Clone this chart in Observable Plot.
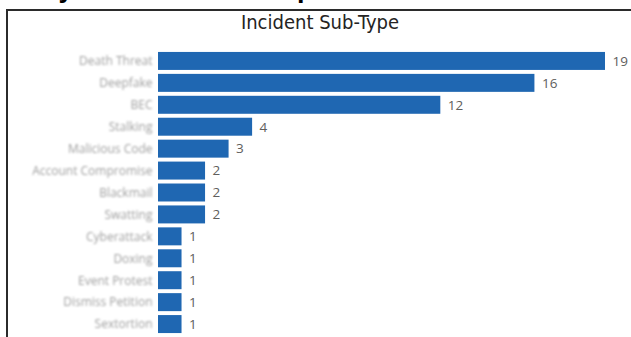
<!DOCTYPE html>
<html>
<head>
<meta charset="utf-8">
<script src="https://cdn.jsdelivr.net/npm/d3@7"></script>
<script src="https://cdn.jsdelivr.net/npm/@observablehq/plot@0.6"></script>
<style>
  html, body { margin: 0; padding: 0; background: #fff; overflow: hidden; }
  #page { position: relative; width: 631px; height: 337px; overflow: hidden; }
  #top { position: absolute; left: 0; top: -27px; font: bold 27px "Liberation Sans", Arial, sans-serif; color: #000; white-space: nowrap; }
  #frame { position: absolute; left: 6px; top: 9px; width: 700px; height: 400px; border-left: 2px solid #2b2b2b; border-top: 2px solid #2b2b2b; }
  #title { position: absolute; left: 0; width: 640px; top: 10px; text-align: center; font: 20px "DejaVu Sans Condensed", "Liberation Sans Narrow", sans-serif; color: #252423; }
  #chart { position: absolute; left: 0; top: 36px; }
</style>
</head>
<body>
<div id="page">
  <div id="top">Analysis of Incident Reports</div>
  <div id="frame"></div>
  <div id="title">Incident Sub-Type</div>
  <div id="chart"></div>
</div>
<script>
const subTypes = [
  "Death Threat", "Deepfake", "BEC", "Stalking", "Malicious Code",
  "Account Compromise", "Blackmail", "Swatting", "Cyberattack", "Doxing",
  "Event Protest", "Dismiss Petition", "Sextortion"
];
const counts = [19, 16, 12, 4, 3, 2, 2, 2, 1, 1, 1, 1, 1];

const data = subTypes.map((t, i) => ({type: t, count: counts[i]}));

const chart = Plot.plot({
  width: 631,
  height: 301,
  marginLeft: 158,
  marginRight: 26,
  marginTop: 12,
  marginBottom: 0,
  style: {background: "transparent", fontFamily: "'Open Sans', sans-serif"},
  x: {domain: [0, 19], axis: null},
  y: {domain: subTypes, padding: 0.18, round: false, label: null},
  marks: [
    Plot.barX(data, {x: "count", y: "type", fill: "#1f67b2"}),
    Plot.text(data, {x: "count", y: "type", text: d => String(d.count), dx: 7, textAnchor: "start", fill: "#605e5c", fontSize: 13.5}),
    Plot.axisY({tickSize: 0, tickPadding: 6, fontSize: 12, color: "#a0a0a0", label: null})
  ]
});
// soft blur on category labels, as in the reference
const svg = d3.select(chart);
svg.insert("defs", ":first-child")
  .append("filter").attr("id", "lblur")
  .attr("filterUnits", "userSpaceOnUse")
  .attr("x", -1000).attr("y", -1000).attr("width", 3000).attr("height", 3000)
  .append("feGaussianBlur").attr("stdDeviation", 1.3);
svg.selectAll("text").filter(function() {
  return subTypes.includes(this.textContent);
}).attr("filter", "url(#lblur)");
document.getElementById("chart").appendChild(chart);
</script>
</body>
</html>
